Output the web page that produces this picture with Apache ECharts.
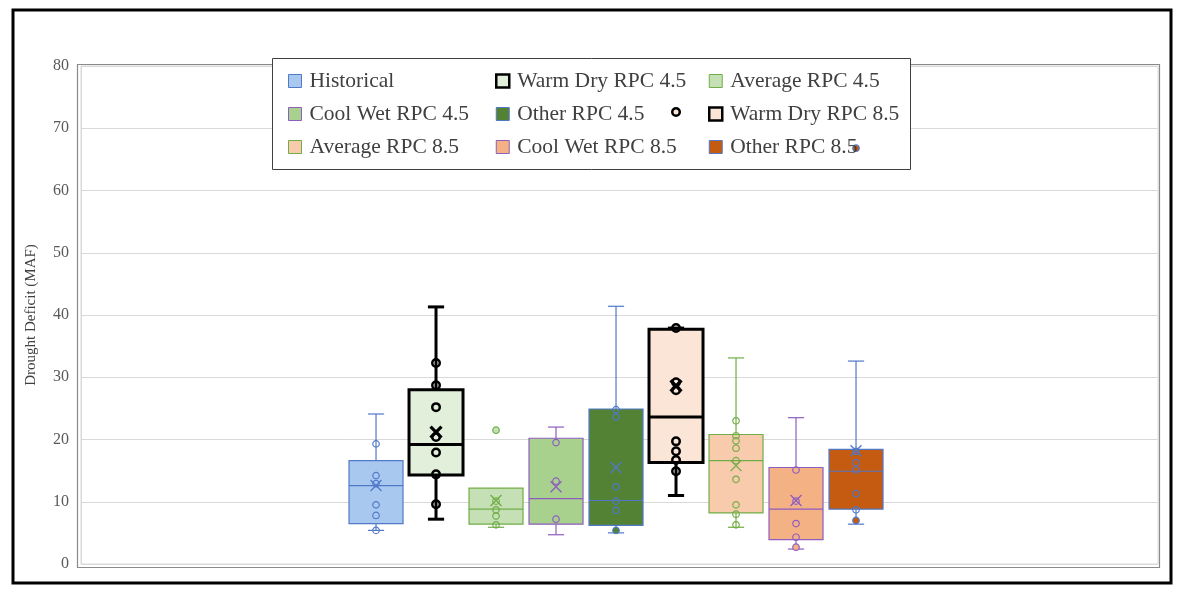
<!DOCTYPE html>
<html><head><meta charset="utf-8">
<script src="https://cdn.jsdelivr.net/npm/echarts@6/dist/echarts.min.js"></script>
<style>html,body{margin:0;padding:0;background:#fff}#c{width:1186px;height:596px}</style>
</head><body><div id="c"></div>
<script>
// ---- data ----
const seriesNames = ['Historical','Warm Dry RPC 4.5','Average RPC 4.5','Cool Wet RPC 4.5','Other RPC 4.5',
  'Warm Dry RPC 8.5','Average RPC 8.5','Cool Wet RPC 8.5','Other RPC 8.5'];
// [min, Q1, median, Q3, max]
const boxStats = [
  [5.4, 6.5, 12.6, 16.6, 24.1],
  [7.2, 14.3, 19.2, 28.0, 41.3],
  [5.9, 6.4, 8.8, 12.2, 12.2],
  [4.7, 6.4, 10.5, 20.2, 22.0],
  [5.0, 6.2, 10.2, 24.9, 41.4],
  [11.0, 16.3, 23.6, 37.7, 37.9],
  [5.9, 8.2, 16.6, 20.8, 33.1],
  [2.4, 3.9, 8.8, 15.5, 23.5],
  [6.4, 8.8, 14.9, 18.4, 32.6]
];
const means = [12.6, 21.2, 10.2, 12.4, 15.5, 28.6, 15.8, 10.2, 18.2];
const innerPoints = [
  [19.3, 14.2, 12.9, 9.5, 7.8, 5.4],
  [32.3, 28.7, 25.2, 20.4, 17.9, 14.4, 9.6],
  [10.1, 8.7, 7.7, 6.3],
  [19.5, 13.3, 7.2],
  [24.8, 23.6, 12.4, 10.1, 8.6],
  [37.9, 29.2, 27.9, 19.7, 18.1, 16.7, 14.9],
  [23.0, 20.6, 19.8, 18.6, 16.6, 13.6, 9.5, 8.0, 6.3],
  [15.1, 10.1, 6.5, 4.3],
  [18.1, 16.3, 15.1, 11.3, 8.7]
];
const outlierPoints = [[], [], [21.5], [], [5.4], [72.6], [], [2.7], [7.0, 66.8]];
const yTicks = {min: 0, max: 80, interval: 10};

// ---- styles ----
const fillColors = ['#A9C8F0','#E2EFDA','#C5E0B4','#A9D18E','#548235','#FBE5D6','#F8CBAD','#F4B183','#C55A11'];
const borderColors = ['#5079C8','#000000','#70AD47','#8E5DC0','#5079C8','#000000','#70AD47','#8E5DC0','#5079C8'];
const lineWidths = [1.2, 3, 1.2, 1.2, 1.2, 3, 1.2, 1.2, 1.2];
const FONT = 'Liberation Serif';

function makeRender(i) {
  return function (params, api) {
    const x = api.value(0);
    const p = [1,2,3,4,5].map(k => api.coord([x, api.value(k)]));
    const half = api.size([0.9, 0])[0] / 2;
    const cap = api.size([0.27, 0])[0] / 2;
    const cx = p[0][0];
    const st = {stroke: borderColors[i], lineWidth: lineWidths[i], fill: 'none'};
    const ch = [];
    if (api.value(1) < api.value(2)) {
      ch.push({type: 'line', shape: {x1: cx, y1: p[0][1], x2: cx, y2: p[1][1]}, style: st});
      ch.push({type: 'line', shape: {x1: cx - cap, y1: p[0][1], x2: cx + cap, y2: p[0][1]}, style: st});
    }
    if (api.value(5) > api.value(4)) {
      ch.push({type: 'line', shape: {x1: cx, y1: p[4][1], x2: cx, y2: p[3][1]}, style: st});
      ch.push({type: 'line', shape: {x1: cx - cap, y1: p[4][1], x2: cx + cap, y2: p[4][1]}, style: st});
    }
    ch.push({type: 'rect', shape: {x: cx - half, y: p[3][1], width: half * 2, height: p[1][1] - p[3][1]},
      style: {fill: fillColors[i], stroke: borderColors[i], lineWidth: lineWidths[i]}});
    ch.push({type: 'line', shape: {x1: cx - half, y1: p[2][1], x2: cx + half, y2: p[2][1]}, style: st});
    return {type: 'group', children: ch};
  };
}

const series = [];
seriesNames.forEach((name, i) => {
  const thick = lineWidths[i] > 2;
  series.push({
    name, type: 'custom', renderItem: makeRender(i), z: 6,
    itemStyle: {color: fillColors[i], borderColor: borderColors[i]},
    encode: {x: 0, y: [1,2,3,4,5]},
    data: [[i].concat(boxStats[i])], silent: true
  });
  series.push({
    name, type: 'scatter', z: 10, silent: true,
    symbol: 'circle', symbolSize: thick ? 7.5 : 6.5,
    itemStyle: {color: 'rgba(255,255,255,0)', borderColor: borderColors[i], borderWidth: thick ? 2.5 : 1.2, opacity: 1},
    data: innerPoints[i].map(v => [i, v])
  });
  series.push({
    name, type: 'scatter', z: 10, silent: true,
    symbol: 'circle', symbolSize: thick ? 7.5 : 6.5,
    itemStyle: {color: fillColors[i], borderColor: borderColors[i], borderWidth: thick ? 2.5 : 1.2, opacity: 1},
    data: outlierPoints[i].map(v => [i, v])
  });
  series.push({
    name, type: 'scatter', z: 11, silent: true,
    symbol: 'path://M0,0L10,10M10,0L0,10', symbolSize: 11,
    itemStyle: {color: 'none', borderColor: borderColors[i], borderWidth: thick ? 3.2 : 1.3, opacity: 1},
    data: [[i, means[i]]]
  });
});

function legendCol(names, left) {
  return {
    orient: 'vertical', left, top: 70, padding: 0, itemWidth: 13, itemHeight: 13, itemGap: 11, z: 12,
    icon: 'rect', selectedMode: false,
    textStyle: {fontFamily: FONT, fontSize: 21.5, color: '#404040', lineHeight: 22, padding: [0, 0, 0, 3]},
    data: names.map(n => {
      const i = seriesNames.indexOf(n);
      return {name: n, itemStyle: {color: fillColors[i], borderColor: borderColors[i], borderWidth: lineWidths[i] > 2 ? 2.5 : 1}};
    })
  };
}

const chart = echarts.init(document.getElementById('c'), null, {renderer: 'canvas'});
chart.setOption({
  animation: false,
  backgroundColor: '#ffffff',
  grid: {left: 81, right: 28, top: 66, bottom: 32, show: true, borderColor: '#D9D9D9', borderWidth: 1},
  xAxis: {type: 'value', min: -4.917, max: 13.033, show: false},
  yAxis: {
    type: 'value', min: yTicks.min, max: yTicks.max, interval: yTicks.interval,
    name: 'Drought Deficit (MAF)', nameLocation: 'middle', nameGap: 42,
    nameTextStyle: {fontFamily: FONT, fontSize: 15, color: '#404040'},
    axisLine: {show: true, onZero: false, lineStyle: {color: '#D9D9D9'}},
    axisTick: {show: false},
    axisLabel: {fontFamily: FONT, fontSize: 16, color: '#595959', margin: 12},
    splitLine: {lineStyle: {color: '#D9D9D9', width: 1}}
  },
  legend: [
    legendCol(['Historical', 'Cool Wet RPC 4.5', 'Average RPC 8.5'], 288),
    legendCol(['Warm Dry RPC 4.5', 'Other RPC 4.5', 'Cool Wet RPC 8.5'], 495),
    legendCol(['Average RPC 4.5', 'Warm Dry RPC 8.5', 'Other RPC 8.5'], 708)
  ],
  graphic: [
    {type: 'rect', z: 1, shape: {x: 13, y: 10, width: 1158, height: 573}, style: {fill: 'none', stroke: '#000', lineWidth: 3}},
    {type: 'rect', z: 1, shape: {x: 77.5, y: 64.5, width: 1082, height: 503}, style: {fill: 'none', stroke: '#8a8a8a', lineWidth: 1.2}},
    {type: 'rect', z: 5, shape: {x: 272.5, y: 58.5, width: 638, height: 111}, style: {fill: '#ffffff', stroke: '#404040', lineWidth: 1}}
  ],
  series
});
</script></body></html>
